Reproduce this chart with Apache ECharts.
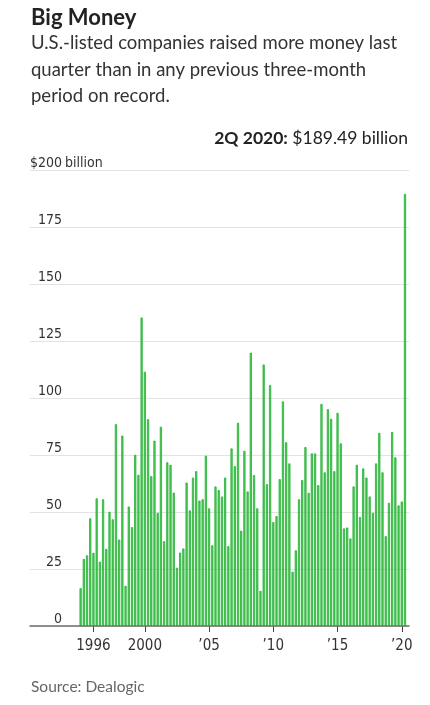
<!DOCTYPE html>
<html>
<head>
<meta charset="utf-8">
<script src="https://cdn.jsdelivr.net/npm/echarts@6/dist/echarts.min.js"></script>
<style>
html, body { margin: 0; padding: 0; background: #fff; }
#main { width: 430px; height: 705px; }
</style>
</head>
<body>
<div id="main"></div>
<script>
// quarterly money raised, $ billion, 1Q 1995 .. 2Q 2020
var firstYear = 1995;
var raised = [
	16.6, 29.4, 31.0, 47.2,
	32.1, 56.0, 28.2, 55.6,
	33.8, 50.1, 46.8, 88.5,
	37.9, 83.5, 17.6, 52.4,
	43.4, 75.1, 66.3, 135.3,
	111.5, 90.7, 65.7, 81.3,
	49.6, 87.4, 37.2, 71.8,
	70.7, 58.5, 25.6, 32.2,
	34.0, 62.9, 50.7, 65.1,
	67.9, 55.0, 55.6, 74.7,
	51.6, 35.4, 61.2, 59.6,
	56.8, 65.1, 35.0, 77.9,
	70.1, 89.1, 41.8, 76.8,
	59.0, 119.9, 66.2, 51.6,
	15.4, 114.7, 62.2, 105.7,
	45.6, 48.2, 64.4, 98.5,
	80.6, 71.3, 23.8, 33.2,
	55.6, 64.0, 78.5, 58.4,
	75.7, 75.7, 61.8, 97.4,
	67.4, 95.1, 90.9, 67.9,
	93.5, 80.1, 42.8, 43.2,
	38.4, 61.2, 70.7, 47.8,
	69.1, 65.1, 56.8, 49.6,
	71.3, 84.7, 67.4, 39.4,
	54.0, 85.1, 74.0, 52.9,
	54.6, 189.49
];
var tickYears = [1996, 2000, 2005, 2010, 2015, 2020];
var tickText = ['1996', '2000', '\u201905', '\u201910', '\u201915', '\u201920'];
var yMax = 200;
var yStep = 25;

var quarters = [];
for (var i = 0; i < raised.length; i++) {
	quarters.push((i % 4 + 1) + 'Q ' + (firstYear + Math.floor(i / 4)));
}

function yearTick(index) {
	return index % 4 === 0 && tickYears.indexOf(firstYear + index / 4) >= 0;
}

// axis numbers are set in a condensed face
var narrow = "'DejaVu Sans', sans-serif";
var squeeze = 'condensed';
var lato = "Lato, 'Noto Sans', sans-serif";

var myChart = echarts.init(document.getElementById('main'));

var option = {
	animation: false,
	grid: [
		{left: 30, right: 21, top: 170, bottom: 79, outerBoundsMode: 'none'},
		{left: 79, right: 23.4, top: 170, bottom: 79, outerBoundsMode: 'none'}
	],
	xAxis: [{
		gridIndex: 0,
		type: 'value',
		min: 0,
		max: 1,
		z: 5,
		axisLine: {show: true, onZero: false, lineStyle: {color: '#6e6e6e', width: 1.5}},
		axisTick: {show: false},
		axisLabel: {show: false},
		splitLine: {show: false}
	}, {
		gridIndex: 1,
		type: 'category',
		data: quarters,
		axisLine: {show: false},
		axisTick: {
			show: true,
			alignWithLabel: true,
			interval: yearTick,
			length: 6,
			lineStyle: {color: '#444'}
		},
		axisLabel: {
			interval: yearTick,
			margin: 13,
			fontFamily: narrow,
			fontStyle: squeeze,
			fontSize: 15,
			color: '#333',
			formatter: function(v, idx) {
				return tickText[tickYears.indexOf(firstYear + idx / 4)];
			}
		}
	}],
	yAxis: [{
		gridIndex: 0,
		type: 'value',
		min: 0,
		max: yMax,
		interval: yStep,
		axisLine: {show: false},
		axisTick: {show: false},
		splitLine: {lineStyle: {color: '#e3e3e3', width: 1}},
		axisLabel: {
			inside: true,
			align: 'right',
			verticalAlign: 'bottom',
			margin: 32,
			fontFamily: narrow,
			fontStyle: squeeze,
			fontSize: 14,
			color: '#333',
			formatter: function(v) {
				return v === yMax ? '$' + v : '' + v;
			}
		}
	}, {
		gridIndex: 1,
		type: 'value',
		min: 0,
		max: yMax,
		show: false
	}],
	series: [{
		name: 'raised',
		type: 'bar',
		xAxisIndex: 1,
		yAxisIndex: 1,
		data: raised,
		barCategoryGap: '32%',
		itemStyle: {color: '#52cc5c', borderColor: '#24b134', borderWidth: 0.8},
		emphasis: {disabled: true}
	}]
};
myChart.setOption(option);

// texts and the pointer to the last quarter
var last = raised.length - 1;
var top = myChart.convertToPixel({gridIndex: 1}, [last, raised[last]]);
var yTop = myChart.convertToPixel({yAxisIndex: 0}, yMax);

myChart.setOption({
	graphic: [{
		type: 'text', x: 31, y: 18,
		style: {text: 'Big Money', fontFamily: lato, fontSize: 22, fontWeight: 'bold', fill: '#222', verticalAlign: 'middle'}
	}, {
		type: 'text', x: 31, y: 30,
		style: {
			text: 'U.S.-listed companies raised more money last\nquarter than in any previous three-month\nperiod on record.',
			fontFamily: lato, fontSize: 18.5, lineHeight: 26.5, fill: '#333', verticalAlign: 'top'
		}
	}, {
		type: 'text', x: 408, y: 138,
		style: {
			text: '{b|2Q 2020:} $189.49 billion',
			fontFamily: lato, fontSize: 17.5, fill: '#222', align: 'right', verticalAlign: 'middle',
			rich: {b: {fontFamily: lato, fontSize: 17.5, fontWeight: 'bold', fill: '#222'}}
		}
	}, {
		type: 'line',
		shape: {x1: Math.round(top[0]) + 0.5, y1: 153, x2: Math.round(top[0]) + 0.5, y2: top[1]},
		style: {stroke: '#222', lineWidth: 1},
		z: 10
	}, {
		type: 'text', x: 65, y: yTop,
		style: {text: 'billion', fontFamily: narrow, fontStyle: squeeze, fontSize: 14, fill: '#333', verticalAlign: 'bottom'}
	}, {
		type: 'text', x: 31, y: 687,
		style: {text: 'Source: Dealogic', fontFamily: lato, fontSize: 15.5, fill: '#666', verticalAlign: 'middle'}
	}]
});
</script>
</body>
</html>
